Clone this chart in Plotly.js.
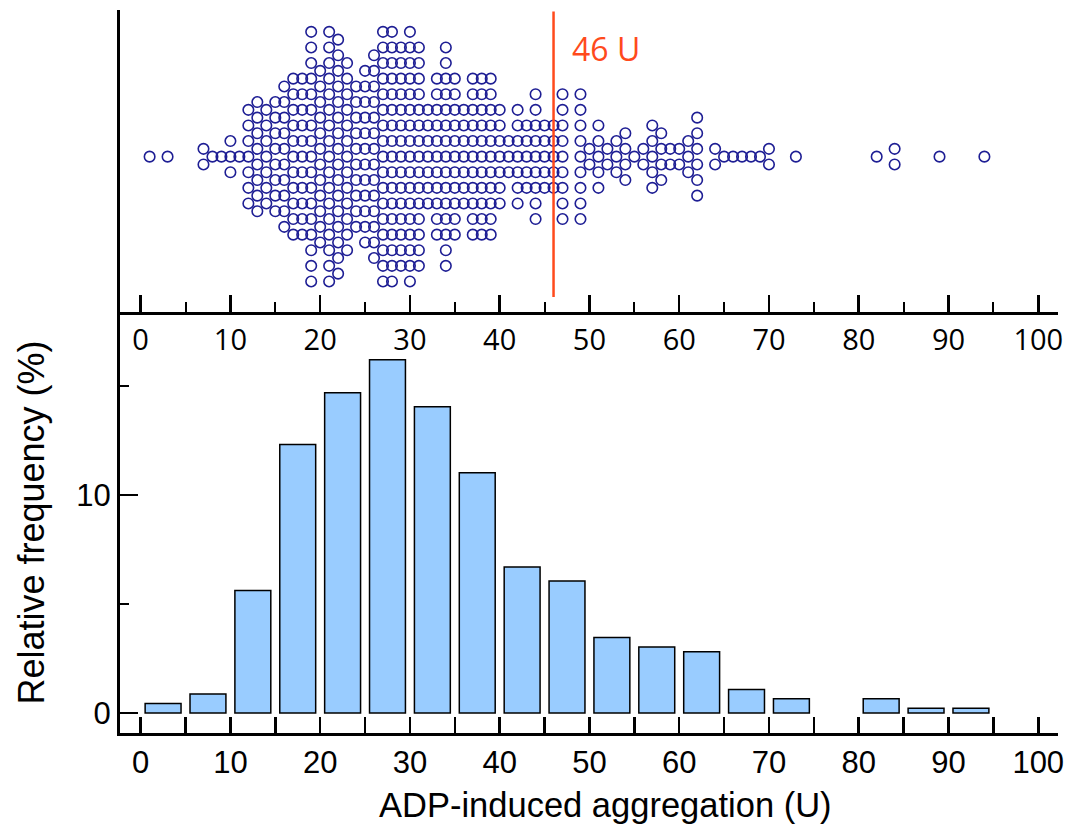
<!DOCTYPE html>
<html><head><meta charset="utf-8">
<script src="https://cdn.plot.ly/plotly-3.0.1.min.js"></script>
<style>html,body{margin:0;padding:0;background:#fff}</style>
</head><body><div id="chart" style="width:1080px;height:832px"></div>
<script>
// Observed values (U) and how many subjects had each value
const dotValues = [1,3,7,8,9,10,11,12,13,14,15,16,17,18,19,20,21,22,23,24,25,26,27,28,29,30,31,32,33,34,35,36,37,38,39,40,41,42,43,44,45,46,47,49,50,51,52,53,54,55,56,57,58,59,60,61,62,64,65,66,67,68,69,70,73,82,84,89,94];
const dotCounts = [1,1,2,1,1,3,1,7,8,7,8,10,11,11,17,12,17,16,13,10,12,14,17,17,15,17,15,7,11,15,11,7,11,11,11,7,3,7,5,9,5,5,9,9,2,5,2,3,4,1,2,5,4,2,2,3,6,2,1,1,1,1,1,2,1,1,2,1,1];
const threshold = 46;
const thresholdLabel = '46 U';
const xTitle = 'ADP-induced aggregation (U)';
const yTitle = 'Relative frequency (%)';
const binStart = 0, binEnd = 100, binSize = 5;
const xTickVals = [0,5,10,15,20,25,30,35,40,45,50,55,60,65,70,75,80,85,90,95,100];
const xTickText = ['0','','10','','20','','30','','40','','50','','60','','70','','80','','90','','100'];
const topTickVals = [0,10,20,30,40,50,60,70,80,90,100];
const yTickVals = [0,10];
const yMinorVals = [5,15];

// expand to individual observations; stack dots symmetrically around the centre line
const obs = [], spread = [];
dotValues.forEach((v,i)=>{
  const n = dotCounts[i];
  for (let k=0;k<n;k++){ obs.push(v); spread.push(k-(n-1)/2); }
});

const navy = '#1e1e94';
const red = '#ff4a1c';
const black = '#000';
const split = (733-312)/723;

const traces = [
  {type:'scatter', mode:'markers', x:obs, y:spread, xaxis:'x2', yaxis:'y2',
   marker:{symbol:'circle-open', size:10.5, color:navy, line:{width:1.6, color:navy}},
   hoverinfo:'x'},
  {type:'histogram', x:obs, xaxis:'x', yaxis:'y', histnorm:'percent',
   xbins:{start:binStart, end:binEnd, size:binSize},
   marker:{color:'#99ccff', line:{color:black, width:1.5}}}
];

const xr = [-2.3, 102.2];
const layout = {
  width:1080, height:832,
  margin:{l:120, r:22, t:10, b:99},
  showlegend:false, bargap:0.2,
  paper_bgcolor:'#fff', plot_bgcolor:'#fff',
  xaxis:{domain:[0,1], anchor:'y', range:xr, tickmode:'array', tickvals:xTickVals, ticktext:xTickText,
    ticks:'inside', ticklen:16, tickwidth:2.5, tickcolor:black,
    showline:true, linewidth:3, linecolor:black, showgrid:false, zeroline:false,
    tickfont:{family:'Liberation Sans, Arial, sans-serif', size:31, color:black}},
  yaxis:{domain:[0,split], anchor:'x', range:[-0.92,18.39], tickmode:'array', tickvals:yTickVals,
    ticks:'inside', ticklen:18, tickwidth:2.5, tickcolor:black,
    minor:{tickmode:'array', tickvals:yMinorVals, ticks:'inside', ticklen:9, tickwidth:2, tickcolor:black},
    showline:true, linewidth:3, linecolor:black, showgrid:false, zeroline:false,
    tickfont:{family:'Liberation Sans, Arial, sans-serif', size:31, color:black},
    title:{text:yTitle, font:{family:'Liberation Sans, Arial, sans-serif', size:36, color:black}, standoff:21}},
  xaxis2:{domain:[0,1], anchor:'y2', range:xr, tickmode:'array', tickvals:topTickVals,
    ticks:'inside', ticklen:17, tickwidth:2.5, tickcolor:black,
    minor:{dtick:5, tick0:0, ticks:'inside', ticklen:10, tickwidth:2, tickcolor:black},
    showline:true, linewidth:3, linecolor:black, showgrid:false, zeroline:false,
    tickfont:{family:'Open Sans, sans-serif', size:29, color:black}},
  yaxis2:{domain:[split,1], anchor:'x2', range:[-9.96,9.4], showline:true, linewidth:3, linecolor:black,
    ticks:'', showticklabels:false, showgrid:false, zeroline:false},
  shapes:[{type:'line', xref:'x2', yref:'y2 domain', x0:threshold, x1:threshold, y0:0.05, y1:0.995,
    line:{color:red, width:2.5}}],
  annotations:[
    {xref:'x2', yref:'y2 domain', x:threshold, y:0.874, xanchor:'left', yanchor:'middle', xshift:16,
     showarrow:false, text:thresholdLabel, font:{family:'Open Sans, sans-serif', size:32, color:red}},
    {xref:'paper', yref:'paper', x:0.518, y:-0.0996, xanchor:'center', yanchor:'middle',
     showarrow:false, text:xTitle, font:{family:'Liberation Sans, Arial, sans-serif', size:34.5, color:black}}
  ]
};
Plotly.newPlot('chart', traces, layout, {displayModeBar:false, staticPlot:true});
</script></body></html>
